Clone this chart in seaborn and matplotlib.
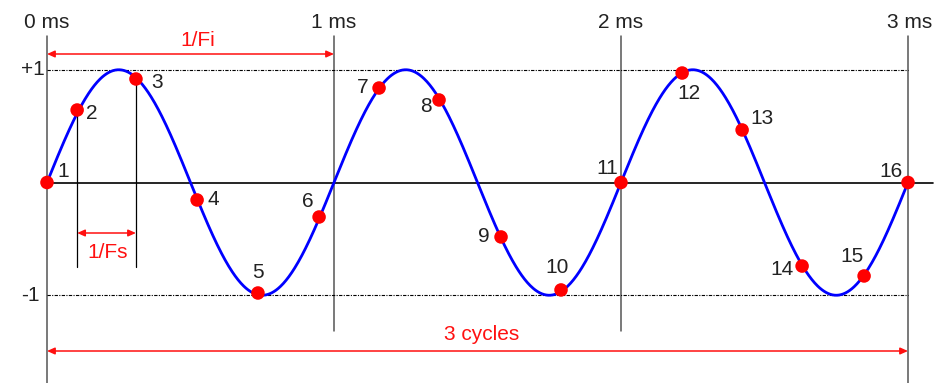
import numpy as np
import pandas as pd
import seaborn as sns
import matplotlib
matplotlib.use("Agg")
import matplotlib.pyplot as plt
from matplotlib import font_manager

# ---- data ----
signal_freq_khz = 1.0          # 1/Fi = 1 ms
duration_ms = 3.0              # 3 cycles
sample_labels = [str(i) for i in range(1, 17)]
sample_t = [0.0, 0.105, 0.310, 0.523, 0.735, 0.948, 1.157, 1.366,
            1.582, 1.791, 2.0, 2.213, 2.422, 2.631, 2.847, 3.0]
sample_v = [0.0, 0.643, 0.918, -0.155, -0.98, -0.306, 0.838, 0.732,
            -0.483, -0.953, 0.0, 0.971, 0.466, -0.741, -0.829, 0.0]
ms_ticks = [0, 1, 2, 3]
ms_labels = ["0 ms", "1 ms", "2 ms", "3 ms"]
level_vals = [1, -1]
level_labels = ["+1", "-1"]

# label offsets (pixels) for the sample numbers
label_dx = [16, 15, 21, 16, 0, -11, -16, -13, -17, -4, -14, 7, 20, -20, -12, -17]
label_dy = [11, -3, -4, 0, 20, 16, 1, -7, 0, 22, 14, -20, 11, -3, 19, 11]

sns.set_style("white")
names = {f.name for f in font_manager.fontManager.ttflist}
if "Liberation Sans Narrow" in names:
    fam = ["Liberation Sans Narrow", "Liberation Sans", "DejaVu Sans"]
    fs = 16.5
else:
    fam = ["Liberation Sans", "DejaVu Sans"]
    fs = 15
plt.rcParams["font.family"] = fam

fig = plt.figure(figsize=(9.43, 3.83), dpi=100)
ax = fig.add_axes([0, 0, 1, 1])
ax.set_axis_off()

# pixel mapping: 0 ms at x=47, 287 px/ms; y=0 at 182.5, 112.75 px/unit
pxms = 287.0
pxu = 112.75
ax.set_xlim(-47 / pxms, (943 - 47) / pxms)
ax.set_ylim(-(383 - 182.5) / pxu, 182.5 / pxu)

# curve
t = np.linspace(0, duration_ms, 1200)
curve = pd.DataFrame({"t": t, "v": np.sin(2 * np.pi * signal_freq_khz * t)})

red = "#ff1010"
grey = "#555555"

# vertical time lines
top = (182.5 - 36) / pxu
for tk in ms_ticks:
    bottom = ax.get_ylim()[0] if tk in (0, 3) else -(331 - 182.5) / pxu
    ax.plot([tk, tk], [bottom, top], color=grey, lw=1.1, zorder=1)

# zero line
ax.plot([0, (933 - 47) / pxms], [0, 0], color="black", lw=1.2, zorder=1)
# +1 / -1 dashed lines
for lv in level_vals:
    ax.plot([0, duration_ms], [lv, lv], color="black", lw=0.8,
            ls=(0, (3, 1.2, 1, 1.2)), zorder=1)

# vertical lines below samples 2 and 3
ybot = -(267 - 182.5) / pxu
for i in (1, 2):
    ax.plot([sample_t[i], sample_t[i]], [sample_v[i], ybot], color="black",
            lw=0.9, zorder=1)

sns.lineplot(data=curve, x="t", y="v", ax=ax, color="#0000ff", lw=2.0,
             zorder=3, legend=False)
samples = pd.DataFrame({"t": sample_t, "v": sample_v, "lab": sample_labels})
sns.scatterplot(data=samples, x="t", y="v", ax=ax, color="#ff0000", s=95,
                edgecolor="none", zorder=4, legend=False)
ax.set_xlabel("")
ax.set_ylabel("")

for lab, x, y, dx, dy in zip(sample_labels, sample_t, sample_v, label_dx, label_dy):
    ax.annotate(lab, (x, y), xytext=(dx, dy), textcoords="offset pixels",
                ha="center", va="center", fontsize=fs, color="#222222", zorder=5)

# ms labels
for tk, lab in zip(ms_ticks, ms_labels):
    ax.text(tk + (2 / pxms if tk == 3 else 0), (182.5 - 23) / pxu, lab,
            ha="center", va="center", fontsize=fs, color="#222222")
# level labels
for lv, lab in zip(level_vals, level_labels):
    ax.text(-26 / pxms, lv, lab, ha="left", va="center", fontsize=fs,
            color="#222222")

arrow = dict(arrowstyle="<|-|>,head_length=0.45,head_width=0.2", color=red,
             lw=1.1, shrinkA=0, shrinkB=0)
# 1/Fi
y_fi = (182.5 - 54) / pxu
ax.annotate("", xy=(0, y_fi), xytext=(1, y_fi), arrowprops=arrow)
ax.text(0.525, (182.5 - 41) / pxu, "1/Fi", ha="center", va="center",
        fontsize=fs, color=red)
# 1/Fs
y_fs = -(233 - 182.5) / pxu
ax.annotate("", xy=(sample_t[1], y_fs), xytext=(sample_t[2], y_fs), arrowprops=arrow)
ax.text((sample_t[1] + sample_t[2]) / 2 + 1 / pxms, -(252 - 182.5) / pxu, "1/Fs",
        ha="center", va="center", fontsize=fs, color=red)
# 3 cycles
y_c = -(351 - 182.5) / pxu
ax.annotate("", xy=(0, y_c), xytext=(duration_ms, y_c), arrowprops=arrow)
ax.text(duration_ms / 2 + 4 / pxms, -(334 - 182.5) / pxu, "3 cycles",
        ha="center", va="center", fontsize=fs, color=red)

fig.savefig("out.png", dpi=100)
